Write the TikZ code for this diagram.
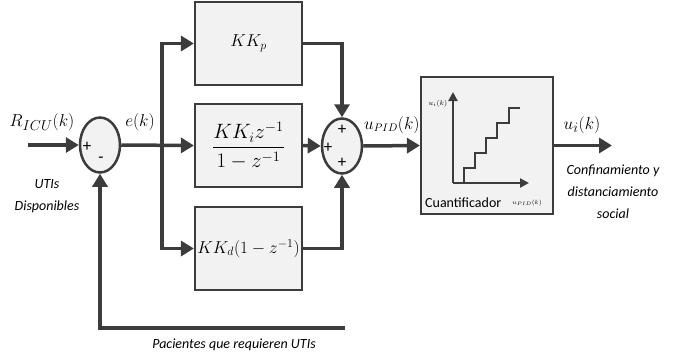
\documentclass[tikz,border=0pt]{standalone}
\usepackage{fontspec}
\setsansfont{Carlito}
\usepackage{amsmath}
\usetikzlibrary{arrows.meta,positioning,shapes.geometric,calc}
\definecolor{linegray}{HTML}{3C3C3C}
\definecolor{boxgray}{HTML}{F2F2F2}

\begin{document}
\begin{tikzpicture}[x=1pt,y=-1pt,
    wire/.style={draw=linegray,line width=3.5pt},
    sig/.style={wire,-{Triangle[length=13pt,width=15pt]}},
    block/.style={draw=linegray,line width=2.2pt,fill=boxgray,minimum width=107pt,minimum height=83pt,inner sep=0pt},
    sumnode/.style={ellipse,draw=linegray,line width=2.5pt,fill=boxgray,minimum width=40pt,minimum height=55pt,inner sep=0pt},
    lbl/.style={font=\fontsize{19}{19}\selectfont},
    sgn/.style={font=\sffamily\fontsize{17}{17}\selectfont,inner sep=0pt},
    note/.style={font=\sffamily\itshape\fontsize{14}{22}\selectfont,align=center}]
  \useasboundingbox (0,0) rectangle (686,360);

  % sumadores y bloques
  \node[sumnode] (sumE) at (100,145) {};
  \node[sumnode] (sumU) at (342,146) {};
  \node[block,font=\fontsize{17}{17}\selectfont] (kp) at (248.5,43.5) {$KK_p$};
  \node[block,font=\fontsize{20}{20}\selectfont] (ki) at (248.5,145.5) {$\dfrac{KK_i z^{-1}}{1-z^{-1}}$};
  \node[block,font=\fontsize{17}{17}\selectfont] (kd) at (248.5,248.5) {$KK_d(1-z^{-1})$};
  \node[block,minimum width=132pt,minimum height=137pt] (quant) at (487,145.5) {};

  \coordinate (in) at (28,145);
  \coordinate (br) at (162,145);
  \coordinate (out) at (612,145.5);
  \coordinate (fb) at (345,328);

  % conexiones
  \draw[sig] (in) -- (sumE.west);
  \draw[sig] (sumE.east) -- (ki.west);
  \draw[sig] (br) |- (kp.west);
  \draw[sig] (br) |- (kd.west);
  \draw[sig] (kp.east) -| (sumU.north);
  \draw[sig] (ki.east) -- (sumU.west);
  \draw[sig] (kd.east) -| (sumU.south);
  \draw[sig] (sumU.east) -- (quant.west);
  \draw[sig] (quant.east) -- (out);
  \draw[sig] (fb) -| (sumE.south);

  % signos
  \node[sgn] (pE) at (87,147) {+};
  \node[sgn] (mE) at (101,160) {-};
  \node[sgn] (pU1) at (342,130) {+};
  \node[sgn] (pU2) at (328,148) {+};
  \node[sgn] (pU3) at (342,163) {+};

  % etiquetas
  \node[lbl] (r) at (42,122) {$R_{ICU}(k)$};
  \node[lbl] (e) at (140,122) {$e(k)$};
  \node[lbl,font=\fontsize{16}{16}\selectfont,anchor=west,inner sep=1pt] (upid) at (363,125) {$u_{PID}(k)$};
  \node[lbl] (ui) at (582,125) {$u_i(k)$};
  \node[note] (disp) at (47,196) {UTIs\\Disponibles};
  \node[note] (conf) at (613,192) {Confinamiento y\\distanciamiento\\social};
  \node[note] (pac) at (234,345) {Pacientes que requieren UTIs};

  % cuantificador
  \draw[linegray,line width=2.2pt,-{Triangle[length=9pt,width=9pt]}] (453,183) -- (453,92);
  \draw[linegray,line width=2.2pt,-{Triangle[length=9pt,width=9pt]}] (453,183) -- (529,183);
  \draw[linegray,line width=2.2pt] (464,183) |- (475,168) |- (486,153) |- (497,138) |- (509,123) |- (520,108);
  \node[font=\fontsize{7}{7}\selectfont] (uiax) at (438,104) {$u_i(k)$};
  \node[font=\fontsize{6}{6}\selectfont] (upax) at (527,203) {$u_{PID}(k)$};
  \node[font=\sffamily\fontsize{14}{14}\selectfont,anchor=west,inner sep=0pt] (cq) at (425,203) {Cuantificador};
\end{tikzpicture}
\end{document}
